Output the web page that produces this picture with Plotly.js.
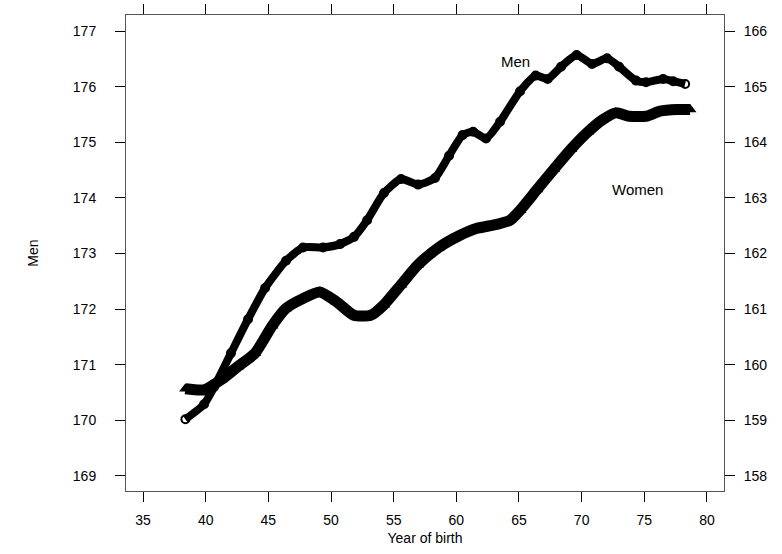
<!DOCTYPE html>
<html>
<head>
<meta charset="utf-8">
<script src="https://cdn.plot.ly/plotly-3.0.1.min.js"></script>
<style>html,body{margin:0;padding:0;background:#fff;}#chart{width:782px;height:554px;}</style>
</head>
<body>
<div id="chart"></div>
<script>
// Year of birth (19xx) and mean height (cm)
const menYear = [38.38, 39.87, 40.67, 42.02, 43.38, 44.74, 46.41, 47.77, 49.37, 50.72, 51.84, 52.88, 54.23, 55.59, 56.95, 58.30, 59.42, 60.50, 61.34, 62.37, 63.49, 65.09, 66.33, 67.29, 68.36, 69.60, 70.83, 72.03, 72.99, 74.34, 75.14, 76.50, 77.30, 78.26];
const menHeight = [170.02, 170.29, 170.60, 171.21, 171.82, 172.38, 172.87, 173.11, 173.11, 173.17, 173.30, 173.60, 174.09, 174.34, 174.24, 174.36, 174.76, 175.13, 175.19, 175.07, 175.37, 175.92, 176.20, 176.14, 176.36, 176.57, 176.41, 176.51, 176.36, 176.11, 176.08, 176.14, 176.10, 176.05];
const womenYear = [38.38, 39.87, 41.23, 42.58, 43.94, 45.30, 46.38, 47.75, 49.10, 50.46, 51.82, 53.17, 54.23, 55.59, 56.95, 58.60, 60.22, 61.58, 62.93, 64.29, 65.09, 66.44, 67.80, 69.16, 70.51, 71.63, 72.72, 73.79, 75.14, 76.26, 77.62, 78.66];
const womenHeight = [159.57, 159.55, 159.73, 159.97, 160.21, 160.70, 161.01, 161.19, 161.31, 161.13, 160.89, 160.89, 161.08, 161.44, 161.80, 162.11, 162.32, 162.45, 162.51, 162.60, 162.78, 163.15, 163.52, 163.88, 164.19, 164.40, 164.53, 164.47, 164.47, 164.56, 164.59, 164.59];
const xTicks = [35, 40, 45, 50, 55, 60, 65, 70, 75, 80];
const menTicks = [169, 170, 171, 172, 173, 174, 175, 176, 177];
const womenTicks = [158, 159, 160, 161, 162, 163, 164, 165, 166];

const FONT = 'Liberation Sans, Arial, sans-serif';
const traces = [
  {x: menYear, y: menHeight, type: 'scatter', mode: 'lines+markers', name: 'Men',
   line: {color: '#000', width: 8, shape: 'spline', smoothing: 0.6},
   marker: {symbol: 'circle-open', size: 8, color: '#000', line: {width: 2, color: '#000'}},
   yaxis: 'y', hoverinfo: 'skip'},
  {x: womenYear, y: womenHeight, type: 'scatter', mode: 'lines+markers', name: 'Women',
   line: {color: '#000', width: 11, shape: 'spline', smoothing: 0.6},
   marker: {symbol: 'triangle-up', size: 11, color: '#000'},
   yaxis: 'y2', hoverinfo: 'skip'}
];
const axisCommon = {showgrid: false, zeroline: false, ticks: 'outside', ticklen: 10, tickwidth: 1,
  tickcolor: '#000', showline: true, linecolor: '#555', linewidth: 1,
  tickfont: {family: FONT, size: 14, color: '#000'}};
const layout = {
  width: 782, height: 554,
  margin: {l: 126, r: 58, t: 15, b: 63},
  paper_bgcolor: '#fff', plot_bgcolor: '#fff',
  showlegend: false,
  font: {family: FONT, size: 14, color: '#000'},
  xaxis: Object.assign({}, axisCommon, {range: [33.64, 81.36], tickvals: xTicks,
    ticktext: xTicks.map(String), mirror: 'ticks', ticklabelstandoff: 6,
    title: {text: 'Year of birth', font: {family: FONT, size: 14}, standoff: 6}}),
  yaxis: Object.assign({}, axisCommon, {range: [168.73, 177.29], tickvals: menTicks,
    ticktext: menTicks.map(String), ticklabelstandoff: 16,
    title: {text: 'Men', font: {family: FONT, size: 14}, standoff: 30}}),
  yaxis2: Object.assign({}, axisCommon, {range: [157.73, 166.29], tickvals: womenTicks,
    ticktext: womenTicks.map(String), overlaying: 'y', side: 'right', ticklabelstandoff: 6}),
  annotations: [
    {x: 64.69, y: 176.46, xref: 'x', yref: 'y', text: 'Men', showarrow: false,
     font: {family: FONT, size: 15, color: '#000'}},
    {x: 74.43, y: 174.16, xref: 'x', yref: 'y', text: 'Women', showarrow: false,
     font: {family: FONT, size: 15, color: '#000'}}
  ]
};
Plotly.newPlot('chart', traces, layout, {displayModeBar: false, staticPlot: true});
</script>
</body>
</html>
